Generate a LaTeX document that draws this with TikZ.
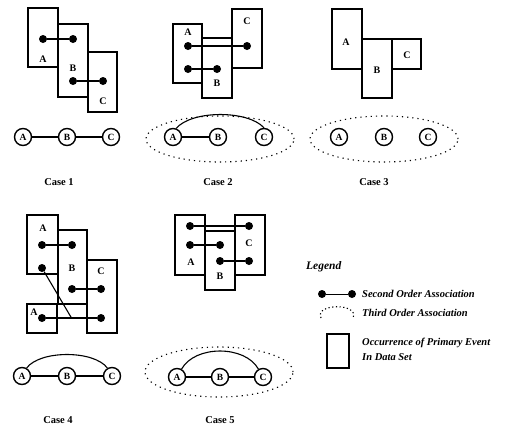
\documentclass[tikz,border=0pt]{standalone}
\usepackage{fontspec}
\setmainfont{Liberation Serif}
\usetikzlibrary{shapes.geometric,calc}
\tikzset{
 evrect/.style={draw, line width=1.3pt, rectangle, inner sep=0pt, outer sep=0pt},
 dot/.style={circle, fill, inner sep=0pt, minimum size=8pt},
 lab/.style={font=\fontsize{10}{11}\selectfont\bfseries, inner sep=0pt},
 cnode/.style={circle, draw, line width=1.4pt, minimum size=17pt, inner sep=0pt, font=\fontsize{9.5}{10}\selectfont\bfseries},
 link/.style={line width=1.1pt},
 third/.style={draw, ellipse, line width=1.1pt, dash pattern=on 1.2pt off 4pt, inner sep=0pt, minimum width=148pt, minimum height=46pt},
 caselab/.style={font=\fontsize{10.5}{11}\selectfont\bfseries, inner sep=0pt},
 legtext/.style={font=\fontsize{10.5}{15}\selectfont\bfseries\itshape, inner sep=0pt, anchor=west, align=left},
}
\newcommand\evbox[5]{\node[evrect, minimum width={(#4-#2)*1pt}, minimum height={(#5-#3)*1pt}] (#1) at ({(#2+#4)/2},{(#3+#5)/2}) {};}
\begin{document}
\begin{tikzpicture}[x=1pt,y=-1pt]
\useasboundingbox (0,0) rectangle (511,429);
% ---------- Case 1
\evbox{c1A}{28}{8}{58}{67}
\evbox{c1B}{58}{24}{88}{97}
\evbox{c1C}{88}{52}{117}{112}
\node[lab] (c1Al) at (43,59) {A};
\node[lab] (c1Bl) at (73,68) {B};
\node[lab] (c1Cl) at (103,101) {C};
\node[dot] (c1d1) at (43,39) {};
\node[dot] (c1d2) at (73,39) {};
\node[dot] (c1d3) at (73,81) {};
\node[dot] (c1d4) at (103,81) {};
\draw[link] (c1d1) -- (c1d2);
\draw[link] (c1d3) -- (c1d4);
\node[cnode] (r1A) at (23,137) {A};
\node[cnode] (r1B) at (67,137) {B};
\node[cnode] (r1C) at (111,137) {C};
\draw[link] (r1A) -- (r1B);
\draw[link] (r1B) -- (r1C);
\node[caselab] (k1) at (59,182) {Case 1};
% ---------- Case 2
\evbox{c2A}{173}{24}{202}{83}
\evbox{c2B}{202}{38}{232}{98}
\evbox{c2C}{232}{9}{262}{68}
\node[lab] (c2Al) at (188,32) {A};
\node[lab] (c2Bl) at (217,83) {B};
\node[lab] (c2Cl) at (247,21) {C};
\node[dot] (c2d1) at (188,46) {};
\node[dot] (c2d2) at (247,46) {};
\node[dot] (c2d3) at (188,69) {};
\node[dot] (c2d4) at (217,69) {};
\draw[link] (c2d1) -- (c2d2);
\draw[link] (c2d3) -- (c2d4);
\node[third] (e2) at (220,139) {};
\node[cnode] (r2A) at (173,137) {A};
\node[cnode] (r2B) at (218,137) {B};
\node[cnode] (r2C) at (264,137) {C};
\draw[link] (r2A) -- (r2B);
\draw[link] (r2A.70) .. controls (192,110) and (248,110) .. (r2C.north);
\node[caselab] (k2) at (218,182) {Case 2};
% ---------- Case 3
\evbox{c3A}{332}{9}{362}{69}
\evbox{c3B}{362}{39}{392}{98}
\evbox{c3C}{392}{39}{421}{69}
\node[lab] (c3Al) at (346,42) {A};
\node[lab] (c3Bl) at (377,70) {B};
\node[lab] (c3Cl) at (407,55) {C};
\node[third] (e3) at (384,139) {};
\node[cnode] (r3A) at (339,137) {A};
\node[cnode] (r3B) at (384,137) {B};
\node[cnode] (r3C) at (428,137) {C};
\node[caselab] (k3) at (374,182) {Case 3};
% ---------- Case 4
\evbox{c4A}{27}{215}{58}{274}
\evbox{c4B}{58}{230}{87}{304}
\evbox{c4C}{87}{260}{117}{333}
\evbox{c4A2}{27}{304}{57}{333}
\node[lab] (c4Al) at (43,228) {A};
\node[lab] (c4Bl) at (72,268) {B};
\node[lab] (c4Cl) at (101,271) {C};
\node[lab] (c4A2l) at (34,312) {A};
\node[dot] (c4d1) at (42,245) {};
\node[dot] (c4d2) at (72,245) {};
\node[dot] (c4d3) at (42,268) {};
\node[dot] (c4d4) at (72,289) {};
\node[dot] (c4d5) at (101,289) {};
\node[dot] (c4d6) at (42,318) {};
\node[dot] (c4d7) at (101,318) {};
\coordinate (c4m) at ($(c4d6)!0.5!(c4d7)$);
\draw[link] (c4d1) -- (c4d2);
\draw[link] (c4d4) -- (c4d5);
\draw[link] (c4d6) -- (c4d7);
\draw[link] (c4d3) -- (c4m);
\node[cnode] (r4A) at (22,376) {A};
\node[cnode] (r4B) at (67,376) {B};
\node[cnode] (r4C) at (112,376) {C};
\draw[link] (r4A) -- (r4B);
\draw[link] (r4B) -- (r4C);
\draw[link] (r4A.60) .. controls (40,350) and (94,350) .. (r4C.120);
\node[caselab] (k4) at (58,420) {Case 4};
% ---------- Case 5
\evbox{c5A}{175}{215}{205}{275}
\evbox{c5B}{205}{231}{235}{290}
\evbox{c5C}{235}{215}{265}{275}
\node[lab] (c5Al) at (191,262) {A};
\node[lab] (c5Bl) at (220,276) {B};
\node[lab] (c5Cl) at (249,243) {C};
\node[dot] (c5d1) at (190,226) {};
\node[dot] (c5d2) at (249,226) {};
\node[dot] (c5d3) at (190,245) {};
\node[dot] (c5d4) at (220,245) {};
\node[dot] (c5d5) at (220,261) {};
\node[dot] (c5d6) at (249,261) {};
\draw[link] (c5d1) -- (c5d2);
\draw[link] (c5d3) -- (c5d4);
\draw[link] (c5d5) -- (c5d6);
\node[third, minimum height=50pt] (e5) at (219,372) {};
\node[cnode] (r5A) at (177,377) {A};
\node[cnode] (r5B) at (220,377) {B};
\node[cnode] (r5C) at (263,377) {C};
\draw[link] (r5A) -- (r5B);
\draw[link] (r5B) -- (r5C);
\draw[link] (r5A.60) .. controls (195,345) and (245,345) .. (r5C.120);
\node[caselab] (k5) at (220,420) {Case 5};
% ---------- Legend
\node[legtext, font=\fontsize{11.5}{15}\selectfont\bfseries\itshape] (lg) at (306,267) {Legend};
\node[dot] (ld1) at (322,294) {};
\node[dot] (ld2) at (352,294) {};
\draw[line width=0.7pt] (ld1) -- (ld2);
\node[legtext] (lt1) at (362,294) {Second Order Association};
\coordinate (la) at (321,318);
\coordinate (lb) at (353,318);
\draw[line width=1.1pt, dash pattern=on 1.2pt off 2.5pt] (la) .. controls (314,303) and (360,303) .. (lb);
\node[legtext] (lt2) at (362,313) {Third Order Association};
\evbox{lrect}{327}{334}{349}{368}
\node[legtext] (lt3) at (362,349) {Occurrence of Primary Event\\In Data Set};
\end{tikzpicture}
\end{document}
